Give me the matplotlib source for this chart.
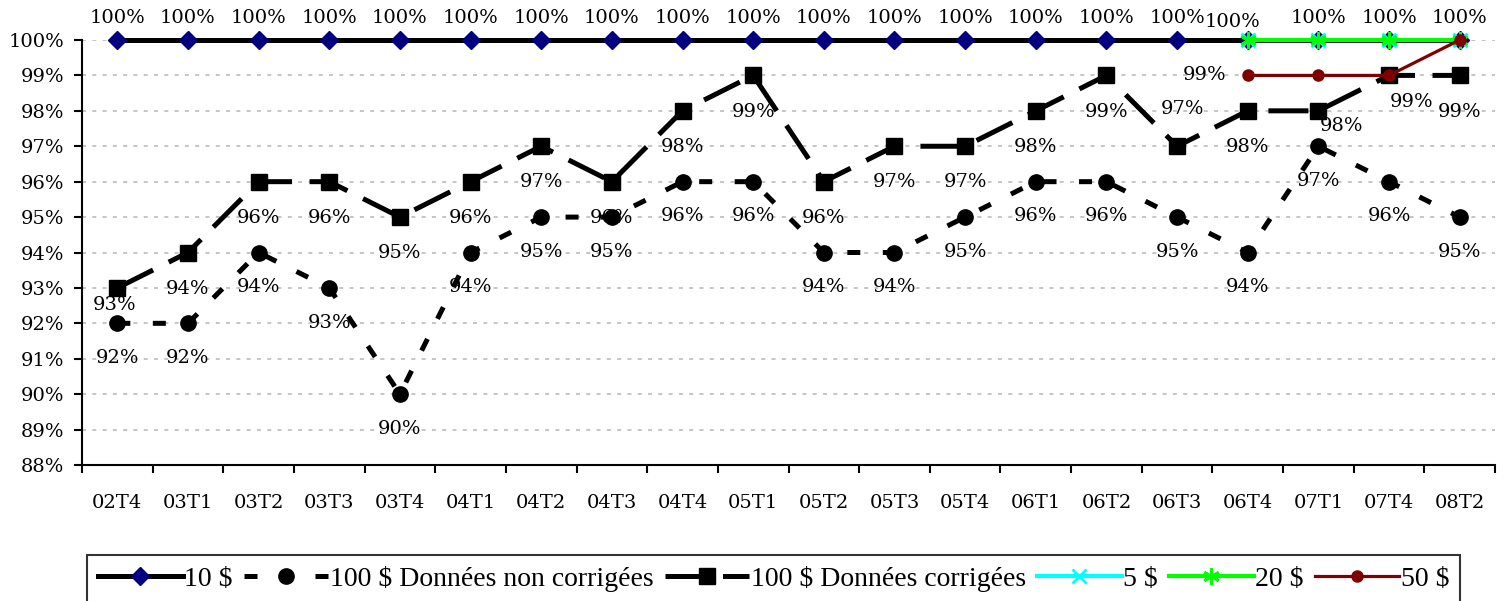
import matplotlib
matplotlib.use("Agg")
import matplotlib.pyplot as plt
from matplotlib.ticker import FixedLocator, FuncFormatter

plt.rcParams['font.family'] = ['Liberation Serif', 'DejaVu Serif']
num_font = ['DejaVu Serif']

quarters = ["02T4", "03T1", "03T2", "03T3", "03T4", "04T1", "04T2", "04T3", "04T4", "05T1",
            "05T2", "05T3", "05T4", "06T1", "06T2", "06T3", "06T4", "07T1", "07T4", "08T2"]

# values in percent
ten = [100] * 20
hundred_raw = [92, 92, 94, 93, 90, 94, 95, 95, 96, 96, 94, 94, 95, 96, 96, 95, 94, 97, 96, 95]
hundred_corr = [93, 94, 96, 96, 95, 96, 97, 96, 98, 99, 96, 97, 97, 98, 99, 97, 98, 98, 99, 99]
late_idx = [16, 17, 18, 19]
five = [100, 100, 100, 100]
twenty = [100, 100, 100, 100]
fifty = [99, 99, 99, 100]

x = list(range(len(quarters)))
late_x = [x[i] for i in late_idx]

W, H = 1507, 601
fig = plt.figure(figsize=(W / 100, H / 100), dpi=100)
ax = fig.add_axes([82 / W, 136 / H, (1495 - 82) / W, 425 / H])

# grid
for v in range(88, 101):
    ax.axhline(v, color="#c0c0c0", lw=1.3, dashes=[2.2, 3.5], zorder=0)

l10, = ax.plot(x, ten, color="black", lw=3.6, marker="D", ms=9.5,
               mfc="#000080", mec="#000080", clip_on=False, zorder=3)
lraw, = ax.plot(x, hundred_raw, color="black", lw=3.6, dashes=[2.6, 4.5], marker="o",
                ms=11, mfc="black", mec="black", clip_on=False, zorder=3)
lcorr, = ax.plot(x, hundred_corr, color="black", lw=3.6, dashes=[8, 3.5], marker="s",
                 ms=12, mfc="black", mec="black", clip_on=False, zorder=3)
l5, = ax.plot(late_x, five, color="#00ffff", lw=3, marker="x", ms=10, mew=2,
              mec="#00ffff", clip_on=False, zorder=4)
l20, = ax.plot(late_x, twenty, color="#00ff00", lw=3, marker=(6, 2, 0), ms=12, mew=2,
               mec="#00ff00", clip_on=False, zorder=4)
l50, = ax.plot(late_x, fifty, color="#800000", lw=2.3, marker="o", ms=8,
               mfc="#800000", mec="#800000", clip_on=False, zorder=5)

fs = 14
# labels for 10 $
for i, v in enumerate(ten):
    dx, dy = (0, 16)
    if i == 16:
        dx, dy = (-11, 13)
    ax.annotate(f"{v}%", (x[i], v), xytext=(dx, dy), textcoords="offset points",
                ha="center", va="center", fontsize=fs, family=num_font,
                annotation_clip=False)

# labels for 100 $ raw (below)
for i, v in enumerate(hundred_raw):
    ax.annotate(f"{v}%", (x[i], v), xytext=(0, -25), textcoords="offset points",
                ha="center", va="center", fontsize=fs, family=num_font)

# labels for 100 $ corrected
corr_off = {0: (-2, -12), 15: (4, 27), 17: (17, -11), 18: (16, -19)}
for i, v in enumerate(hundred_corr):
    dx, dy = corr_off.get(i, (0, -26))
    ax.annotate(f"{v}%", (x[i], v), xytext=(dx, dy), textcoords="offset points",
                ha="center", va="center", fontsize=fs, family=num_font)

# label for 50 $ first point
ax.annotate(f"{fifty[0]}%", (late_x[0], fifty[0]), xytext=(-31, 0), textcoords="offset points",
            ha="center", va="center", fontsize=fs, family=num_font)

ax.set_xlim(-0.5, len(quarters) - 0.5)
ax.set_ylim(88, 100)
ax.yaxis.set_major_locator(FixedLocator(range(88, 101)))
ax.yaxis.set_major_formatter(FuncFormatter(lambda v, p: f"{int(v)}%"))
ax.set_xticks(x)
ax.set_xticklabels(quarters)
ax.set_xticks([i - 0.5 for i in range(len(quarters) + 1)], minor=True)
ax.tick_params(axis="x", which="major", length=0, pad=21, labelsize=14)
ax.tick_params(axis="x", which="minor", length=6, width=1.5, direction="out")
ax.tick_params(axis="y", length=6, width=1.5, pad=7, labelsize=14)
for t in ax.get_xticklabels() + ax.get_yticklabels():
    t.set_family(num_font)

for s in ["top", "right"]:
    ax.spines[s].set_visible(False)
for s in ["left", "bottom"]:
    ax.spines[s].set_linewidth(1.5)

leg = fig.legend([l10, lraw, lcorr, l5, l20, l50],
                 ["10 $", "100 $ Données non corrigées", "100 $ Données corrigées",
                  "5 $", "20 $", "50 $"],
                 loc="upper left", bbox_to_anchor=(87 / W, 1 - 555 / H), ncol=6,
                 fontsize=20, frameon=True, fancybox=False, edgecolor="black",
                 handlelength=3.05, handletextpad=0.05, columnspacing=0.4,
                 borderaxespad=0, borderpad=0.4, numpoints=1)
leg.get_frame().set_linewidth(1.5)

fig.savefig("out.png", dpi=100)
